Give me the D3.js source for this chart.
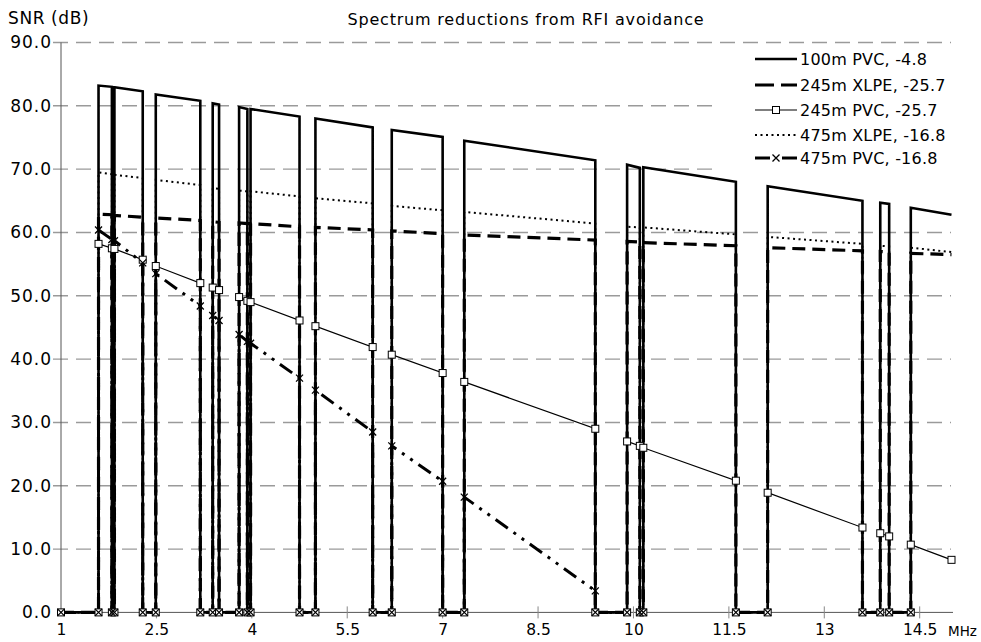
<!DOCTYPE html>
<html><head><meta charset="utf-8">
<script src="https://cdn.jsdelivr.net/npm/d3@7"></script>
<style>
body{margin:0;background:#fff}
svg{display:block}
text{font-family:"DejaVu Sans",sans-serif;fill:#000}
</style>
</head><body>
<svg id="c" width="981" height="642"></svg>
<script>
// Band edges (MHz) of the usable spectrum; value is 0 in between (notches)
const bandStart = [1.59, 1.84, 2.49, 3.385, 3.80, 3.98, 5.0, 6.20, 7.34, 9.90, 10.155, 12.11, 13.88, 14.36];
const bandEnd   = [1.80, 2.285, 3.19, 3.485, 3.93, 4.75, 5.90, 7.0, 9.40, 10.10, 11.61, 13.60, 14.02, 15.0];

const seriesNames = ["100m PVC, -4.8", "245m XLPE, -25.7", "245m PVC, -25.7", "475m XLPE, -16.8", "475m PVC, -16.8"];

const pvc100Start  = [83.2, 82.95, 81.8, 80.4, 79.8, 79.5, 78.0, 76.2, 74.5, 70.7, 70.3, 67.3, 64.7, 63.9];
const pvc100End    = [83.0, 82.3, 80.8, 80.2, 79.5, 78.3, 76.6, 75.1, 71.4, 70.2, 68.0, 65.0, 64.5, 62.8];
const xlpe245Start = [62.9, 62.7, 62.3, 61.7, 61.5, 61.4, 60.8, 60.25, 59.6, 58.6, 58.4, 57.6, 57.0, 56.7];
const xlpe245End   = [62.8, 62.4, 61.9, 61.6, 61.4, 60.9, 60.4, 59.8, 58.8, 58.5, 57.9, 57.1, 56.9, 56.5];
const pvc245Start  = [58.2, 57.4, 54.7, 51.3, 49.8, 49.0, 45.2, 40.7, 36.4, 27.0, 26.0, 18.9, 12.5, 10.7];
const pvc245End    = [57.5, 55.7, 52.0, 50.9, 49.2, 46.1, 41.9, 37.8, 29.0, 26.3, 20.8, 13.4, 12.0, 8.3];
const xlpe475Start = [69.5, 69.1, 68.3, 67.0, 66.6, 66.5, 65.4, 64.2, 63.25, 60.9, 60.8, 59.3, 57.9, 57.6];
const xlpe475End   = [69.2, 68.6, 67.5, 66.9, 66.5, 65.7, 64.6, 63.5, 61.4, 60.8, 59.7, 58.2, 57.8, 56.9];
// null = no signal in that band (nothing drawn inside the band)
const pvc475Start  = [60.4, 58.7, 53.5, 46.9, 43.9, 42.5, 35.1, 26.3, 18.2, null, null, null, null, null];
const pvc475End    = [58.9, 55.2, 48.4, 46.1, 42.8, 37.0, 28.5, 20.7, 3.4, null, null, null, null, null];

const xTicks = [1, 2.5, 4, 5.5, 7, 8.5, 10, 11.5, 13, 14.5];
const yTicks = [0, 10, 20, 30, 40, 50, 60, 70, 80, 90];

const svg = d3.select("#c");
const x = d3.scaleLinear().domain([1, 15]).range([61, 951.5]);
const y = d3.scaleLinear().domain([0, 90]).range([612.4, 42.5]);

function build(sv, ev) {
  const pts = [[1, 0]];
  bandStart.forEach((s, i) => {
    const e = bandEnd[i];
    pts.push([s, 0], [s, sv[i]], [e, ev[i]]);
    if (i < bandStart.length - 1) pts.push([e, 0]);
  });
  return pts;
}

// gridlines
svg.append("g").selectAll("line").data(yTicks.filter(d => d > 0)).join("line")
  .attr("x1", 53).attr("x2", 951).attr("y1", d => y(d)).attr("y2", d => y(d))
  .attr("stroke", "#9a9a9a").attr("stroke-width", 1.4).attr("stroke-dasharray", "15,8");

// axes
const xAxis = d3.axisBottom(x).tickValues(xTicks).tickSize(0).tickFormat(d3.format("~g"));
const gx = svg.append("g").attr("transform", `translate(0,${y(0)})`).call(xAxis);
gx.select(".domain").remove();
svg.append("line").attr("x1", x(1)).attr("x2", 953).attr("y1", y(0)).attr("y2", y(0)).attr("stroke", "#555").attr("stroke-width", 1);
svg.append("g").selectAll("line").data(xTicks.slice(1)).join("line")
  .attr("x1", d => x(d)).attr("x2", d => x(d)).attr("y1", y(0) - 6).attr("y2", y(0) + 6)
  .attr("stroke", "#888").attr("stroke-width", 1);
gx.selectAll("text").attr("y", 12).attr("dy", "0.71em").style("font-size", "15.5px").style("font-family", "DejaVu Sans");
svg.append("text").attr("x", 948).attr("y", 636).style("font-size", "13.5px").text("MHz");

svg.append("line").attr("x1", x(1)).attr("x2", x(1)).attr("y1", y(90)).attr("y2", y(0)).attr("stroke", "#555").attr("stroke-width", 1);
const yAxis = d3.axisLeft(y).tickValues(yTicks).tickSize(0).tickFormat(d3.format(".1f"));
const gy = svg.append("g").attr("transform", `translate(${x(1)},0)`).call(yAxis);
gy.select(".domain").remove();
gy.selectAll("text").attr("x", -9).style("font-size", "17px").style("font-family", "DejaVu Sans").style("letter-spacing", "1px");

svg.append("text").attr("x", 8).attr("y", 24).style("font-size", "17px").style("letter-spacing", "0.6px").text("SNR (dB)");
svg.append("text").attr("x", 526).attr("y", 25).attr("text-anchor", "middle").style("font-size", "16px").style("letter-spacing", "0.8px")
  .text("Spectrum reductions from RFI avoidance");

const line = d3.line().defined(d => d[1] !== null).x(d => x(d[0])).y(d => y(d[1]));
const series = [
  {name: seriesNames[0], pts: build(pvc100Start, pvc100End), w: 2.6, dash: null, marker: null},
  {name: seriesNames[1], pts: build(xlpe245Start, xlpe245End), w: 3.2, dash: "13,7", marker: null},
  {name: seriesNames[2], pts: build(pvc245Start, pvc245End), w: 1.2, dash: null, marker: "sq"},
  {name: seriesNames[3], pts: build(xlpe475Start, xlpe475End), w: 2, dash: "2,3.5", marker: null},
  {name: seriesNames[4], pts: build(pvc475Start, pvc475End), w: 3, dash: "15,7,3,7,3,7", marker: "x"}
];

series.forEach(s => {
  svg.append("path").attr("d", line(s.pts)).attr("fill", "none").attr("stroke", "#000")
    .attr("stroke-width", s.w).attr("stroke-dasharray", s.dash).attr("stroke-linejoin", "miter");
});

function drawMarker(g, type, cx, cy) {
  if (type === "sq") {
    g.append("rect").attr("x", cx - 3.5).attr("y", cy - 3.5).attr("width", 7).attr("height", 7)
      .attr("fill", "#fff").attr("stroke", "#000").attr("stroke-width", 1);
  } else if (type === "x") {
    g.append("path").attr("d", `M${cx-3.5},${cy-3.5}L${cx+3.5},${cy+3.5}M${cx-3.5},${cy+3.5}L${cx+3.5},${cy-3.5}`)
      .attr("stroke", "#000").attr("stroke-width", 1.3).attr("fill", "none");
  }
}
series.forEach(s => {
  if (!s.marker) return;
  const g = svg.append("g");
  s.pts.filter(p => p[1] !== null).forEach(p => drawMarker(g, s.marker, x(p[0]), y(p[1])));
});

// legend
const lg = svg.append("g");
lg.append("rect").attr("x", 718).attr("y", 46).attr("width", 250).attr("height", 127).attr("fill", "#fff");
const rowsY = [59, 85, 110, 135, 158];
series.forEach((s, i) => {
  const yy = rowsY[i];
  if (i === 4) {
    lg.append("line").attr("x1", 755).attr("x2", 770).attr("y1", yy).attr("y2", yy).attr("stroke", "#000").attr("stroke-width", s.w);
    lg.append("line").attr("x1", 782).attr("x2", 797).attr("y1", yy).attr("y2", yy).attr("stroke", "#000").attr("stroke-width", s.w);
  } else {
    lg.append("line").attr("x1", 755).attr("x2", 797).attr("y1", yy).attr("y2", yy).attr("stroke", "#000")
      .attr("stroke-width", s.w).attr("stroke-dasharray", i === 1 ? "19,7" : (i === 3 ? "2,3.5" : null));
  }
  if (s.marker) drawMarker(lg, s.marker, 776, yy);
  lg.append("text").attr("x", 800).attr("y", yy).attr("dy", "0.36em").style("font-size", "16px").style("letter-spacing", "0.2px").text(s.name);
});
</script>
</body></html>
